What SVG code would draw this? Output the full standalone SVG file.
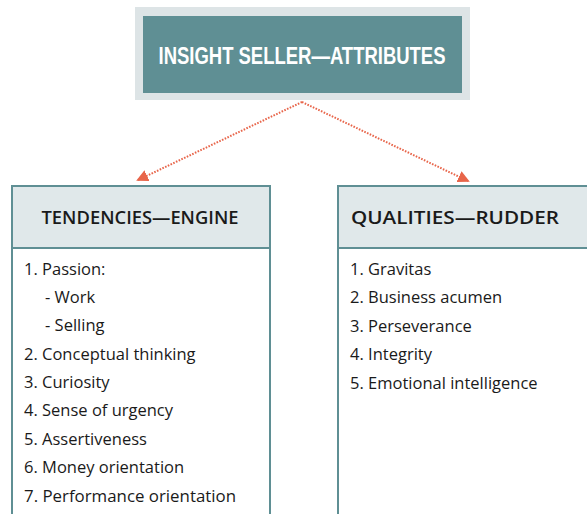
<svg xmlns="http://www.w3.org/2000/svg" width="587" height="514" viewBox="0 0 587 514">
<style>
.hdr{fill:#e0e8ea;stroke:#5f8f94;stroke-width:2}
.body{fill:#ffffff;stroke:#5f8f94;stroke-width:2}
.ht{font-family:"Open Sans","Noto Sans",sans-serif;font-size:18px;font-weight:600;fill:#1a1a1a;text-anchor:middle}
.it{font-family:"Open Sans","Noto Sans",sans-serif;font-size:16.5px;fill:#1a1a1a}
.conn{fill:none;stroke:#e8654a;stroke-width:2;stroke-dasharray:1.6 1.4}
</style>
<defs>
<marker id="ah" markerWidth="13" markerHeight="12" refX="10" refY="6" orient="auto" markerUnits="userSpaceOnUse">
<path d="M0,0 L12,6 L0,12 Z" fill="#e8654a"/>
</marker>
</defs>
<rect width="587" height="514" fill="#ffffff"/>
<g id="title">
<rect x="135" y="7" width="335" height="93" fill="#dde4e6"/>
<rect x="143" y="16" width="319" height="77" fill="#5f8f94"/>
<text x="302" y="64" font-family="'Liberation Sans',sans-serif" font-weight="bold" font-size="24" fill="#ffffff" text-anchor="middle" textLength="287" lengthAdjust="spacingAndGlyphs">INSIGHT SELLER—ATTRIBUTES</text>
</g>
<g id="connectors">
<path class="conn" d="M302,102 L138,180" marker-end="url(#ah)"/>
<path class="conn" d="M302,102 L468,181" marker-end="url(#ah)"/>
</g>
<g id="tendencies">
<rect class="body" x="12" y="186" width="258" height="340"/>
<rect class="hdr" x="12" y="186" width="258" height="62"/>
<text class="ht" x="140" y="224" textLength="197" lengthAdjust="spacingAndGlyphs">TENDENCIES—ENGINE</text>
<text class="it" x="24" y="275">1. Passion:</text>
<text class="it" x="45" y="303">- Work</text>
<text class="it" x="45" y="331">- Selling</text>
<text class="it" x="24" y="360">2. Conceptual thinking</text>
<text class="it" x="24" y="388">3. Curiosity</text>
<text class="it" x="24" y="416">4. Sense of urgency</text>
<text class="it" x="24" y="445">5. Assertiveness</text>
<text class="it" x="24" y="473">6. Money orientation</text>
<text class="it" x="24" y="502" textLength="212" lengthAdjust="spacingAndGlyphs">7. Performance orientation</text>
</g>
<g id="qualities">
<rect class="body" x="338" y="186" width="270" height="340"/>
<rect class="hdr" x="338" y="186" width="270" height="62"/>
<text class="ht" x="455" y="224" textLength="208" lengthAdjust="spacingAndGlyphs">QUALITIES—RUDDER</text>
<text class="it" x="350" y="275">1. Gravitas</text>
<text class="it" x="350" y="303">2. Business acumen</text>
<text class="it" x="350" y="332">3. Perseverance</text>
<text class="it" x="350" y="360">4. Integrity</text>
<text class="it" x="350" y="389">5. Emotional intelligence</text>
</g>
</svg>
